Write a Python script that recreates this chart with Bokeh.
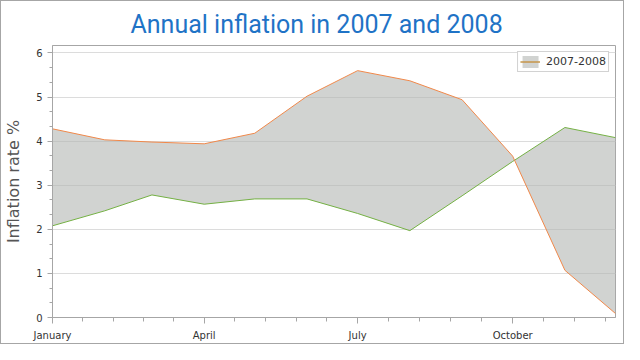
from bokeh.plotting import figure
from bokeh.models import (Range1d, FixedTicker, DatetimeTickFormatter, Legend,
                          LegendItem, ColumnDataSource)
from bokeh.embed import file_html
from bokeh.resources import INLINE
import pandas as pd

# ---- data ----
months = ["January", "February", "March", "April", "May", "June", "July",
          "August", "September", "October", "November", "December"]
inflation_2007 = [2.08, 2.42, 2.78, 2.57, 2.69, 2.69, 2.36, 1.97, 2.76, 3.54, 4.31, 4.08]
inflation_2008 = [4.28, 4.03, 3.98, 3.94, 4.18, 5.02, 5.60, 5.37, 4.94, 3.66, 1.07, 0.09]
major_months = ["January", "April", "July", "October"]
y_ticks = [0, 1, 2, 3, 4, 5, 6]
series_label = "2007-2008"

dates = pd.to_datetime([f"2007-{i + 1:02d}-01" for i in range(len(months))])
src = ColumnDataSource(dict(x=dates, lo=inflation_2007, hi=inflation_2008))

def to_ms(d):
    return (d - pd.Timestamp("1970-01-01")) / pd.Timedelta(milliseconds=1)

major_ms = [to_ms(dates[months.index(m)]) for m in major_months]
minor_ms = []
step = (major_ms[1] - major_ms[0]) / 5
for a, b in zip(major_ms[:-1], major_ms[1:]):
    s = (b - a) / 5
    minor_ms += [a + s * k for k in range(1, 5)]
    step = s
end_ms = to_ms(dates[-1])
t = major_ms[-1] + step
while t <= end_ms + 1:
    minor_ms.append(t)
    t += step

p = figure(width=624, height=344, output_backend="svg", toolbar_location=None,
           x_axis_type="datetime",
           x_range=Range1d(dates[0], dates[-1]), y_range=Range1d(0, 6.17),
           min_border_left=48, min_border_right=10, min_border_top=20,
           min_border_bottom=28)
p.styles = {"border": "1px solid #a6a6a6"}
p.background_fill_color = "#ffffff"
p.border_fill_color = "#ffffff"
p.outline_line_color = "#a6a6a6"

p.title.text = "Annual inflation in 2007 and 2008"
p.title.align = "left"
p.title.offset = 78
p.title.text_color = "#1f73c6"
p.title.text_font = "Roboto"
p.title.text_font_size = "25px"
p.title.text_font_style = "normal"
p.title.standoff = 13

area = p.varea(x="x", y1="lo", y2="hi", source=src,
               fill_color="#b3b6b3", fill_alpha=0.6)
l_lo = p.line(x="x", y="lo", source=src, line_color="#74b044", line_width=1)
l_hi = p.line(x="x", y="hi", source=src, line_color="#f0884a", line_width=1)

p.xgrid.grid_line_color = None
p.ygrid.grid_line_color = "#dcdcdc"

for ax in (p.xaxis[0], p.yaxis[0]):
    ax.axis_line_color = "#a6a6a6"
    ax.major_tick_line_color = "#a6a6a6"
    ax.minor_tick_line_color = "#a6a6a6"
    ax.major_label_text_font = "DejaVu Sans"
    ax.major_label_text_font_size = "10px"
    ax.major_label_text_color = "#333333"
    ax.major_tick_in = 0
    ax.minor_tick_in = 0

p.xaxis.ticker = FixedTicker(ticks=major_ms, minor_ticks=minor_ms)
p.xaxis.formatter = DatetimeTickFormatter(
    milliseconds="%B", seconds="%B", minsec="%B", minutes="%B", hourmin="%B",
    hours="%B", days="%B", months="%B", years="%B")
p.xaxis.major_tick_out = 6
p.xaxis.minor_tick_out = 4
p.xaxis.major_label_standoff = 6

p.yaxis.ticker = FixedTicker(ticks=y_ticks,
                             minor_ticks=[a + k / 3 for a in y_ticks[:-1] for k in (1, 2)])
p.yaxis.major_tick_out = 5
p.yaxis.minor_tick_out = 3
p.yaxis.axis_label = "Inflation rate %"
p.yaxis.axis_label_text_font = "DejaVu Sans"
p.yaxis.axis_label_text_font_size = "16px"
p.yaxis.axis_label_text_font_style = "normal"
p.yaxis.axis_label_text_color = "#555555"
p.yaxis.axis_label_standoff = 10

legend = Legend(items=[LegendItem(label=series_label, renderers=[area, l_lo, l_hi])],
                location="top_right")
legend.border_line_color = "#a6a6a6"
legend.background_fill_alpha = 1
legend.label_text_font = "DejaVu Sans"
legend.label_text_font_size = "11px"
legend.label_text_color = "#333333"
legend.margin = 6
legend.padding = 2
legend.spacing = 0
legend.glyph_width = 20
legend.glyph_height = 15
legend.label_standoff = 6
p.add_layout(legend)

open("out.html", "w").write(file_html(p, INLINE))
